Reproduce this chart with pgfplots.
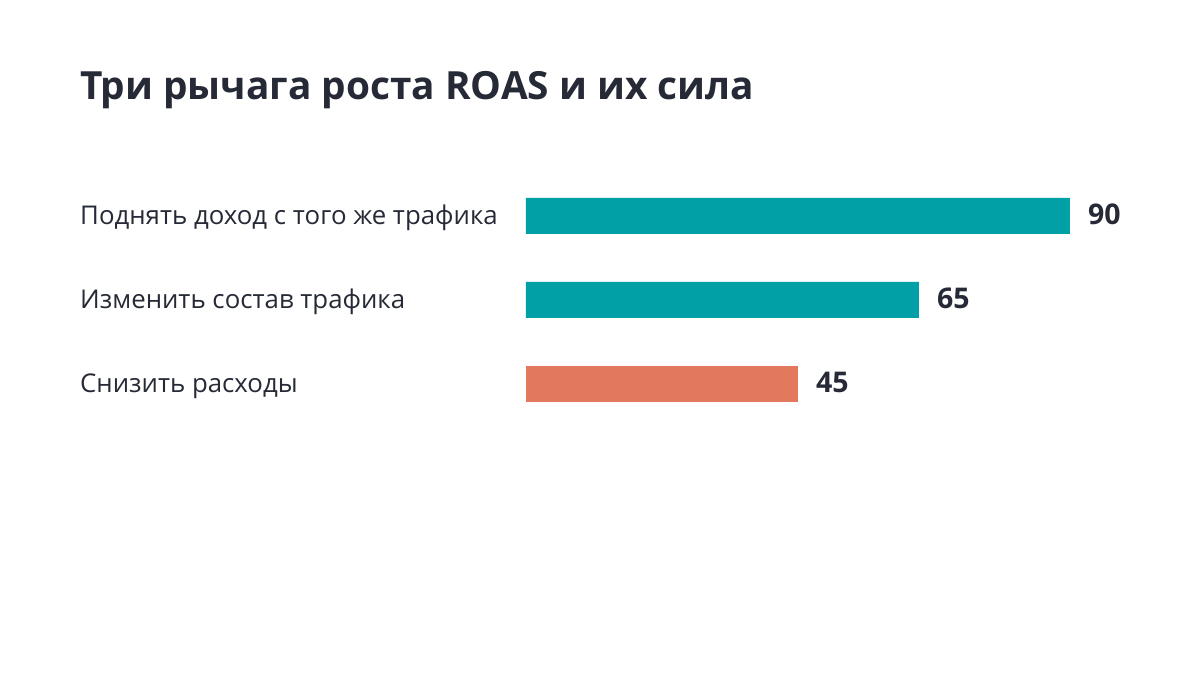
\documentclass[border=0pt]{standalone}
\usepackage{fontspec}
\setmainfont{Open Sans}
\usepackage{pgfplots}
\pgfplotsset{compat=1.18}
\definecolor{txt}{HTML}{262A36}
\definecolor{teal}{HTML}{00A0A6}
\definecolor{coral}{HTML}{E2795C}
\begin{document}
\begin{tikzpicture}
\path[fill=white] (0,0) rectangle (1200pt,675pt);
\node[anchor=base west, inner sep=0pt, text=txt,
  font=\fontsize{38.8}{44}\selectfont\bfseries] at (80pt,575pt)
  {Три рычага роста ROAS и их сила};
\begin{axis}[
  at={(526pt,501pt)}, anchor=north west,
  scale only axis, width=544pt, height=252pt,
  xmin=0, xmax=90, ymin=-0.5, ymax=2.5,
  y dir=reverse,
  hide x axis,
  y axis line style={draw=none},
  ytick={0,1,2},
  yticklabels={Поднять доход с того же трафика, Изменить состав трафика, Снизить расходы},
  major tick length=0pt,
  yticklabel style={anchor=base west, inner sep=0pt, xshift=-446pt, yshift=-8.5pt,
    text=txt, font=\fontsize{25.8}{28}\selectfont},
  xbar, bar width=36pt, bar shift=0pt,
  nodes near coords={\pgfmathprintnumber[assume math mode=true]{\pgfplotspointmeta}},
  every node near coord/.append style={anchor=base west, inner sep=0pt, xshift=18pt,
    yshift=-8.5pt, text=txt, font=\fontsize{28.5}{30}\selectfont\bfseries},
  clip=false,
]
\addplot[draw=none, fill=teal] coordinates {(90,0) (65,1)};
\addplot[draw=none, fill=coral] coordinates {(45,2)};
\end{axis}
\end{tikzpicture}
\end{document}
